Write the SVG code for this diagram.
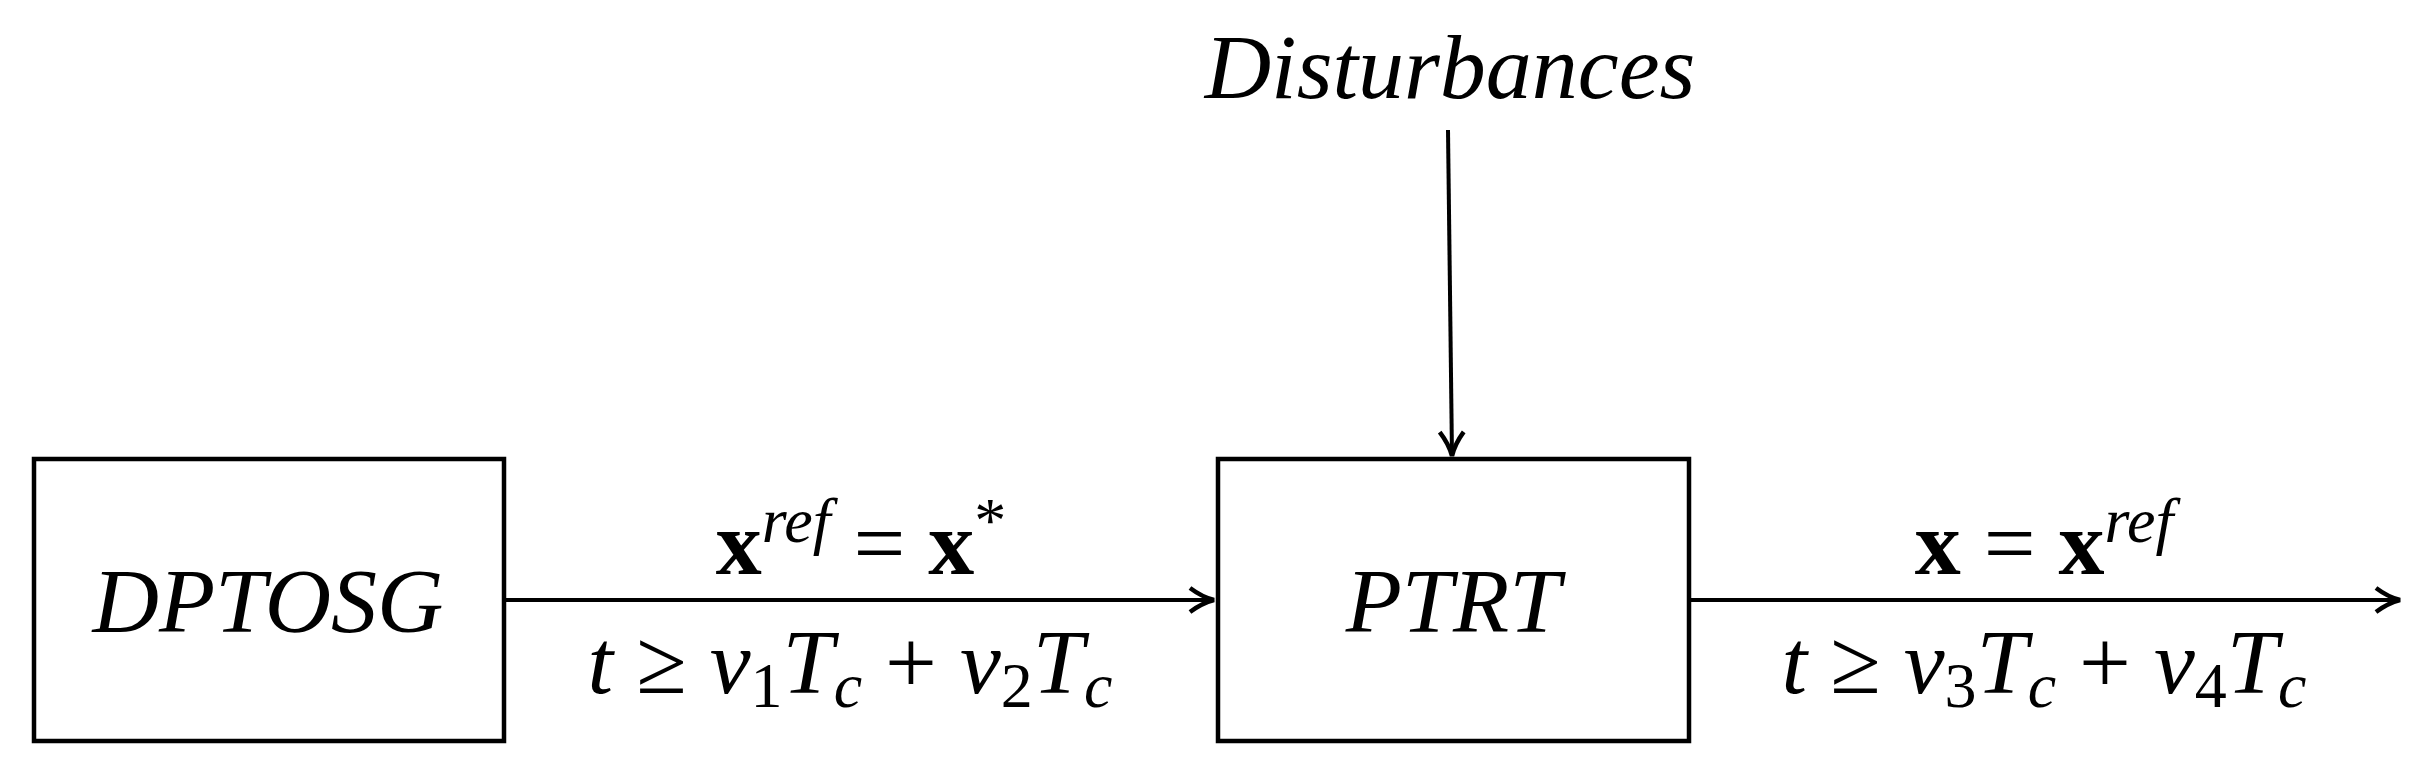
<svg xmlns="http://www.w3.org/2000/svg" width="2432" height="784" viewBox="0 0 2432 784">
<style>
.box{fill:#fff;stroke:#000;stroke-width:4.5}
.ln{stroke:#000;stroke-width:4;fill:none}
text{font-family:"Liberation Serif",serif;font-size:92px;fill:#000;text-anchor:middle}
.i{font-style:italic}
.b{font-weight:bold;font-style:normal}
.s{font-size:64px}
</style>
<defs>
<marker id="ah2" markerWidth="30" markerHeight="30" refX="26" refY="15" orient="auto" markerUnits="userSpaceOnUse"><path d="M2,3 Q14,12 26,15 Q14,18 2,27" fill="none" stroke="#000" stroke-width="4.5"/></marker></defs>
<g id="connectors">
<line class="ln" x1="504" y1="600" x2="1214" y2="600" marker-end="url(#ah2)"/>
<line class="ln" x1="1689" y1="600" x2="2400" y2="600" marker-end="url(#ah2)"/>
<line class="ln" x1="1448" y1="130" x2="1452" y2="456" stroke-width="3" marker-end="url(#ah2)"/>
</g>
<g id="dptosg"><rect class="box" x="34" y="459" width="470" height="282"/><text class="i" x="268" y="632">DPTOSG</text></g>
<g id="ptrt"><rect class="box" x="1218" y="459" width="471" height="282"/><text class="i" x="1453" y="632">PTRT</text></g>
<g id="disturbances"><text class="i" x="1450" y="98">Disturbances</text></g>
<g id="labels">
<text x="861" y="574"><tspan class="b">x</tspan><tspan class="i s" dy="-32">ref</tspan><tspan dy="32"> = </tspan><tspan class="b">x</tspan><tspan class="s" dy="-32">*</tspan></text>
<text x="850" y="693" xml:space="preserve"><tspan class="i">t</tspan> ≥ <tspan class="i">ν</tspan><tspan class="s" dy="14">1</tspan><tspan class="i" dy="-14">T</tspan><tspan class="i s" dy="14">c</tspan><tspan dy="-14"> + </tspan><tspan class="i">ν</tspan><tspan class="s" dy="14">2</tspan><tspan class="i" dy="-14">T</tspan><tspan class="i s" dy="14">c</tspan></text>
<text x="2044" y="574"><tspan class="b">x</tspan> = <tspan class="b">x</tspan><tspan class="i s" dy="-32">ref</tspan></text>
<text x="2044" y="693" xml:space="preserve"><tspan class="i">t</tspan> ≥ <tspan class="i">ν</tspan><tspan class="s" dy="14">3</tspan><tspan class="i" dy="-14">T</tspan><tspan class="i s" dy="14">c</tspan><tspan dy="-14"> + </tspan><tspan class="i">ν</tspan><tspan class="s" dy="14">4</tspan><tspan class="i" dy="-14">T</tspan><tspan class="i s" dy="14">c</tspan></text>
</g>
</svg>
